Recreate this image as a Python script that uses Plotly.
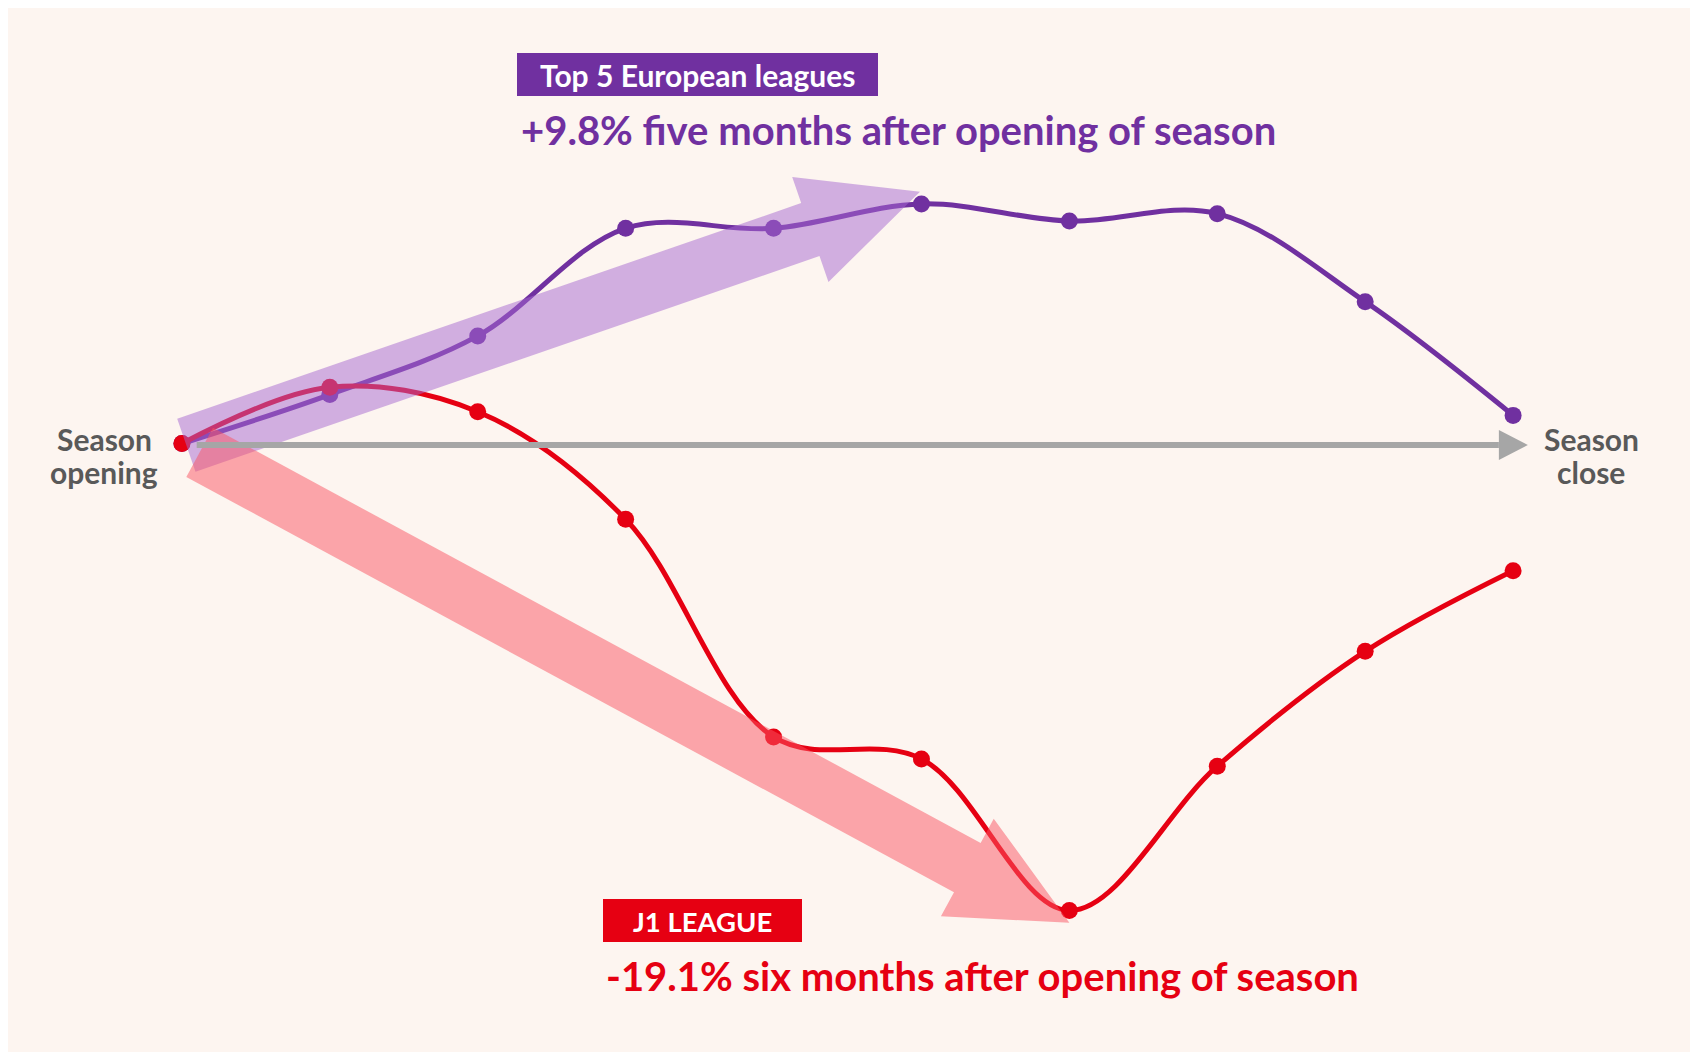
import math
import plotly.graph_objects as go

# ---------------- data ----------------
months = [0, 1, 2, 3, 4, 5, 6, 7, 8, 9]
europe = [0, 2.0, 4.4, 8.8, 8.8, 9.8, 9.1, 9.4, 5.8, 1.15]
j1 = [0, 2.3, 1.3, -3.1, -12.0, -12.9, -19.1, -13.2, -8.5, -5.2]

europe_label = "Top 5 European leagues"
europe_note = "+9.8% five months after opening of season"
j1_label = "J1 LEAGUE"
j1_note = "-19.1% six months after opening of season"
start_label = ["Season", "opening"]
end_label = ["Season", "close"]

# trend arrows: (start month, start %, end month, end %)
europe_trend = (0.03, -0.07, 4.99, 10.3)
j1_trend = (0.12, -0.36, 6.0, -19.6)
timeline = (0.1, 9.1)  # start and tip of the season axis arrow (months)

# ---------------- layout constants ----------------
W, H = 1698, 1052
OFFSET = 8  # page body margin
PW, PH = 1627, 1014
ML, MT = 34 - OFFSET, 16 - OFFSET
MR, MB = W - ML - PW, H - MT - PH
X_RANGE = [-1, 10]
PX_PER_PCT = 24.45
ZERO_PX = 443.5 - OFFSET
Y_RANGE = [-(MT + PH - ZERO_PX) / PX_PER_PCT, (ZERO_PX - MT) / PX_PER_PCT]
PX_PER_MONTH = PW / (X_RANGE[1] - X_RANGE[0])

PURPLE = "#7030A0"
RED = "#E60012"
GRAY = "#A6A6A6"
TEXT_GRAY = "#595959"
PANEL = "#FDF5F0"
FONT = "Lato"


def d2p(x, y):
    return (ML + (x - X_RANGE[0]) * PX_PER_MONTH, MT + (Y_RANGE[1] - y) * PX_PER_PCT)


def p2d(px, py):
    return (X_RANGE[0] + (px - ML) / PX_PER_MONTH, Y_RANGE[1] - (py - MT) / PX_PER_PCT)


def px2paper(sx, sy):
    # screen px (as seen on page) -> paper coords
    px, py = sx - OFFSET, sy - OFFSET
    return ((px - ML) / PW, 1 - (py - MT) / PH)


def arrow_path(x0, y0, x1, y1, shaft=56, head_w=111, head_len=116):
    ax, ay = d2p(x0, y0)
    bx, by = d2p(x1, y1)
    L = math.hypot(bx - ax, by - ay)
    ux, uy = (bx - ax) / L, (by - ay) / L
    nx, ny = -uy, ux
    hx, hy = bx - ux * head_len, by - uy * head_len
    pts = [
        (ax + nx * shaft / 2, ay + ny * shaft / 2),
        (hx + nx * shaft / 2, hy + ny * shaft / 2),
        (hx + nx * head_w / 2, hy + ny * head_w / 2),
        (bx, by),
        (hx - nx * head_w / 2, hy - ny * head_w / 2),
        (hx - nx * shaft / 2, hy - ny * shaft / 2),
        (ax - nx * shaft / 2, ay - ny * shaft / 2),
    ]
    dpts = [p2d(px, py) for px, py in pts]
    return "M " + " L ".join(f"{x:.4f},{y:.4f}" for x, y in dpts) + " Z"


fig = go.Figure()

fig.add_trace(go.Scatter(
    x=months, y=europe, mode="lines+markers",
    line=dict(color=PURPLE, width=5, shape="spline"),
    marker=dict(color=PURPLE, size=17),
    hoverinfo="skip", showlegend=False,
))
fig.add_trace(go.Scatter(
    x=months, y=j1, mode="lines+markers",
    line=dict(color=RED, width=5, shape="spline"),
    marker=dict(color=RED, size=17),
    hoverinfo="skip", showlegend=False,
))

shapes = []
# trend arrows
shapes.append(dict(type="path", xref="x", yref="y", path=arrow_path(*europe_trend),
                   fillcolor="rgba(166,103,208,0.5)", line=dict(width=0), layer="above"))
shapes.append(dict(type="path", xref="x", yref="y", path=arrow_path(*j1_trend),
                   fillcolor="rgba(250,83,98,0.5)", line=dict(width=0), layer="above"))
# season axis arrow
head_len_m = 29 / PX_PER_MONTH
head_half = 15 / PX_PER_PCT
ax_y = -0.06
shapes.append(dict(type="line", xref="x", yref="y", x0=timeline[0], y0=ax_y,
                   x1=timeline[1] - head_len_m, y1=ax_y,
                   line=dict(color=GRAY, width=6), layer="above"))
shapes.append(dict(type="path", xref="x", yref="y",
                   path=(f"M {timeline[1]-head_len_m},{ax_y+head_half} L {timeline[1]},{ax_y} "
                         f"L {timeline[1]-head_len_m},{ax_y-head_half} Z"),
                   fillcolor=GRAY, line=dict(width=0), layer="above"))

# label boxes
for (bx0, by0, bx1, by1, col) in [(517, 53, 878, 96, PURPLE), (603, 899, 802, 942, RED)]:
    a0, b0 = px2paper(bx0, by0)
    a1, b1 = px2paper(bx1, by1)
    shapes.append(dict(type="rect", xref="paper", yref="paper", x0=a0, y0=b1, x1=a1, y1=b0,
                       fillcolor=col, line=dict(width=0), layer="above"))

annotations = []


def add_text(text, px, py, size, color, xanchor="center"):
    x, y = px2paper(px, py)
    annotations.append(dict(text=f"<b>{text}</b>", x=x, y=y, xref="paper", yref="paper",
                            xanchor=xanchor, yanchor="middle", showarrow=False,
                            font=dict(family=FONT, size=size, color=color)))


add_text(europe_label, 697.5, 75, 30, "white")
add_text(europe_note, 519, 130, 40, PURPLE, xanchor="left")
add_text(j1_label, 702.5, 921, 27.5, "white")
add_text(j1_note, 604, 976, 40, RED, xanchor="left")
for i, line in enumerate(start_label):
    add_text(line, 104, 439.5 + 32.5 * i, 30, TEXT_GRAY)
for i, line in enumerate(end_label):
    add_text(line, 1591, 439.5 + 32.5 * i, 30, TEXT_GRAY)

fig.update_layout(
    width=W, height=H,
    margin=dict(l=ML, r=MR, t=MT, b=MB),
    paper_bgcolor=PANEL, plot_bgcolor="rgba(0,0,0,0)",
    xaxis=dict(range=X_RANGE, visible=False, fixedrange=True),
    yaxis=dict(range=Y_RANGE, visible=False, fixedrange=True),
    shapes=shapes, annotations=annotations,
    showlegend=False,
)

fig.write_html("out.html")
